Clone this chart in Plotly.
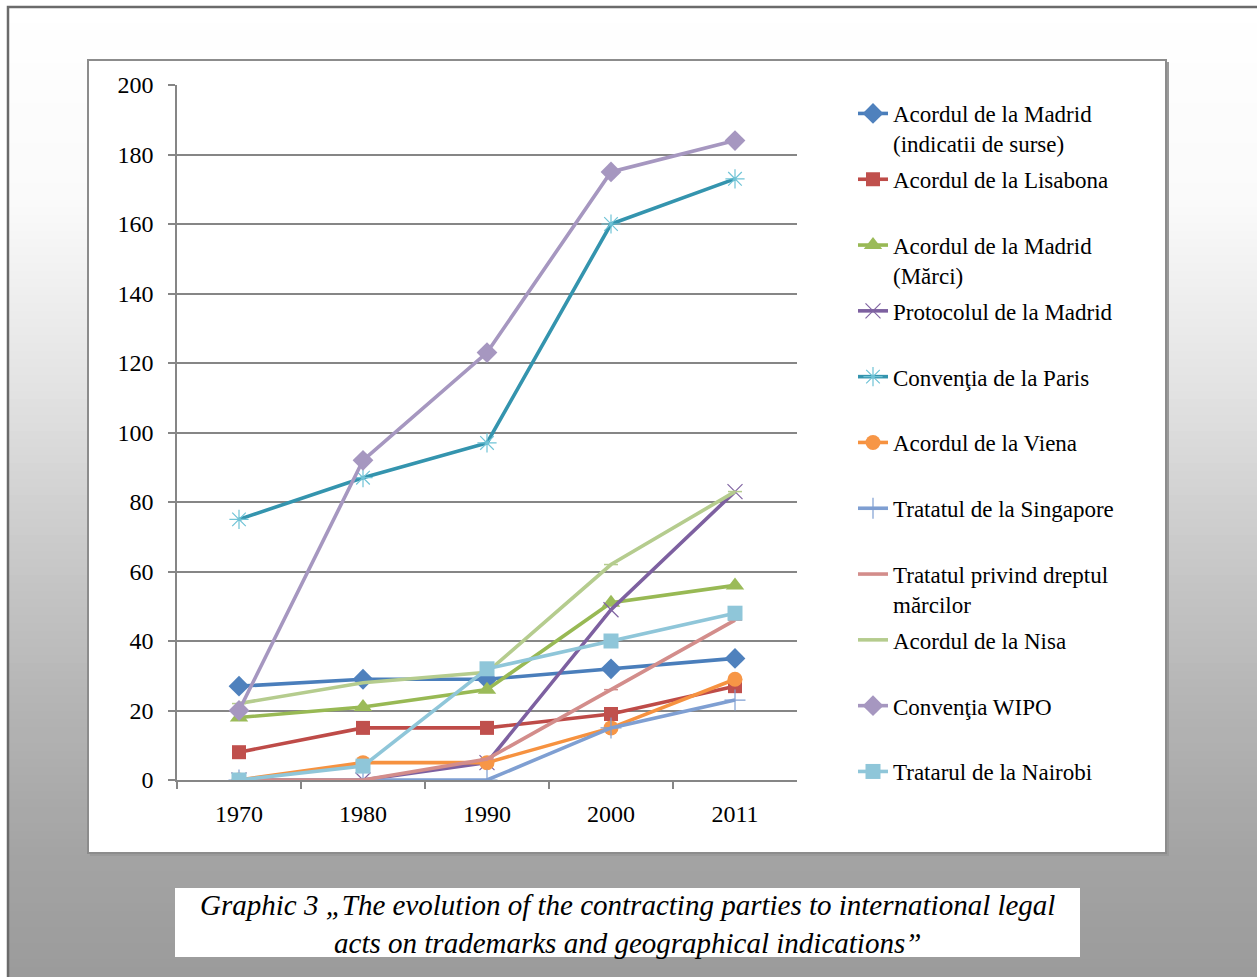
import plotly.graph_objects as go

years = ["1970", "1980", "1990", "2000", "2011"]

madrid_indicatii = [27, 29, 29, 32, 35]
lisabona = [8, 15, 15, 19, 27]
madrid_marci = [18, 21, 26, 51, 56]
protocol_madrid = [0, 0, 5, 49, 83]
conventia_paris = [75, 87, 97, 160, 173]
acord_viena = [0, 5, 5, 15, 29]
tratat_singapore = [0, 0, 0, 15, 23]
tratat_drept_marci = [0, 0, 6, 26, 46]
acord_nisa = [22, 28, 31, 62, 83]
conventia_wipo = [20, 92, 123, 175, 184]
tratat_nairobi = [0, 4, 32, 40, 48]

NB = "\u00a0"
series = [
    ("Acordul de la Madrid<br>(indicatii de surse)", madrid_indicatii, "#4A7EBB", "#4F81BD", "diamond", 16, 0),
    ("Acordul de la Lisabona<br>" + NB, lisabona, "#BE4B48", "#C0504D", "square", 14, 0),
    ("Acordul de la Madrid<br>(Mărci)", madrid_marci, "#98B954", "#9BBB59", "triangle-up", 16, 0),
    ("Protocolul de la Madrid<br>" + NB, protocol_madrid, "#7D60A0", "#8064A2", "x-thin-open", 15, 1.2),
    ("Convenţia de la Paris<br>" + NB, conventia_paris, "#3494AE", "#6FC3D6", "asterisk-open", 16, 1.2),
    ("Acordul de la Viena<br>" + NB, acord_viena, "#F69240", "#F79646", "circle", 15, 0),
    ("Tratatul de la Singapore<br>" + NB, tratat_singapore, "#7F9FD2", "#7F9FD2", "cross-thin-open", 15, 1.2),
    ("Tratatul privind dreptul<br>mărcilor", tratat_drept_marci, "#D38D8B", "#D38D8B", "line-ew-open", 10, 1.5),
    ("Acordul de la Nisa<br>" + NB, acord_nisa, "#B5CC8E", "#B5CC8E", "line-ew-open", 10, 1.5),
    ("Convenţia WIPO<br>" + NB, conventia_wipo, "#A697C0", "#A697C0", "diamond", 16, 0),
    ("Tratarul de la Nairobi<br>" + NB, tratat_nairobi, "#8FC6D9", "#8FC6D9", "square", 15, 0),
]

W, H = 1257, 977
def px(x):
    return x / W
def py(y):
    return 1 - y / H

fig = go.Figure()
for i, (name, vals, lc, mc, sym, size, mlw) in enumerate(series):
    marker = dict(symbol=sym, size=size, color=mc)
    if mlw:
        marker["line"] = dict(color=mc, width=mlw)
    else:
        marker["line"] = dict(width=0)
    fig.add_trace(go.Scatter(
        x=years, y=vals, name=name, mode="lines+markers",
        line=dict(color=lc, width=3.6), marker=marker,
        legendgroup="g%d" % i,
    ))

shapes = []
# gradient background bands
stops = [(7, 255), (200, 250), (380, 228), (560, 200), (700, 181), (850, 164), (977, 155)]
def grad(y):
    for (y0, c0), (y1, c1) in zip(stops[:-1], stops[1:]):
        if y0 <= y <= y1:
            return c0 + (c1 - c0) * (y - y0) / (y1 - y0)
    return stops[-1][1]
step = 8
y = 7
while y < 980:
    c = int(round(grad(y + step / 2)))
    shapes.append(dict(type="rect", xref="paper", yref="paper", layer="below",
                       x0=px(8), x1=px(1262), y0=py(y), y1=py(min(y + step + 0.5, 985)),
                       fillcolor="rgb(%d,%d,%d)" % (c, c, c), line=dict(width=0)))
    y += step
# outer frame border
shapes.append(dict(type="rect", xref="paper", yref="paper", layer="below",
                   x0=px(8), x1=px(1262), y0=py(7), y1=py(985),
                   fillcolor="rgba(0,0,0,0)", line=dict(color="#6B6B6B", width=2.5)))
# inner chart box shadow + box
shapes.append(dict(type="rect", xref="paper", yref="paper", layer="below",
                   x0=px(90), x1=px(1169), y0=py(62), y1=py(856),
                   fillcolor="#9A9A9A", line=dict(width=0)))
shapes.append(dict(type="rect", xref="paper", yref="paper", layer="below",
                   x0=px(88), x1=px(1166), y0=py(60), y1=py(853),
                   fillcolor="white", line=dict(color="#8C8C8C", width=2)))
# caption box
shapes.append(dict(type="rect", xref="paper", yref="paper", layer="below",
                   x0=px(175), x1=px(1080), y0=py(888), y1=py(957),
                   fillcolor="white", line=dict(width=0)))

font_family = "Liberation Serif, Times New Roman, serif"

fig.update_layout(
    width=W, height=H,
    margin=dict(l=0, r=0, t=0, b=0, pad=0, autoexpand=False),
    paper_bgcolor="white",
    plot_bgcolor="rgba(0,0,0,0)",
    shapes=shapes,
    font=dict(family=font_family, size=23, color="black"),
    showlegend=True,
    legend=dict(
        x=px(853), y=py(92), xanchor="left", yanchor="top",
        bgcolor="rgba(0,0,0,0)", borderwidth=0,
        traceorder="grouped", tracegroupgap=3, valign="top",
        font=dict(family=font_family, size=23, color="black"),
    ),
    xaxis=dict(
        domain=[px(177), px(797)], type="category", range=[-0.5, 4.5],
        showgrid=False, showline=True, linecolor="#868686", linewidth=1.5,
        ticks="outside", tickson="boundaries", ticklen=7, tickcolor="#868686", tickwidth=1.5,
        tickfont=dict(family=font_family, size=24, color="black"),
        ticklabelstandoff=11, automargin=False,
        zeroline=False, fixedrange=True,
    ),
    yaxis=dict(
        domain=[py(780), py(85)], range=[0, 200], dtick=20, tick0=0,
        showgrid=True, gridcolor="#868686", gridwidth=1.5,
        showline=True, linecolor="#868686", linewidth=1.5,
        ticks="outside", ticklen=7, tickcolor="#868686", tickwidth=1.5,
        tickfont=dict(family=font_family, size=24, color="black"),
        ticklabelstandoff=10, automargin=False,
        zeroline=False, fixedrange=True,
    ),
    annotations=[dict(
        xref="paper", yref="paper", x=px(627), y=py(923.5), xanchor="center", yanchor="middle",
        text="<i>Graphic 3 „The evolution of the contracting parties to international legal<br>acts on trademarks and geographical indications”</i>",
        showarrow=False, align="center",
        font=dict(family=font_family, size=29, color="black"),
    )],
)

fig.write_html("out.html")
